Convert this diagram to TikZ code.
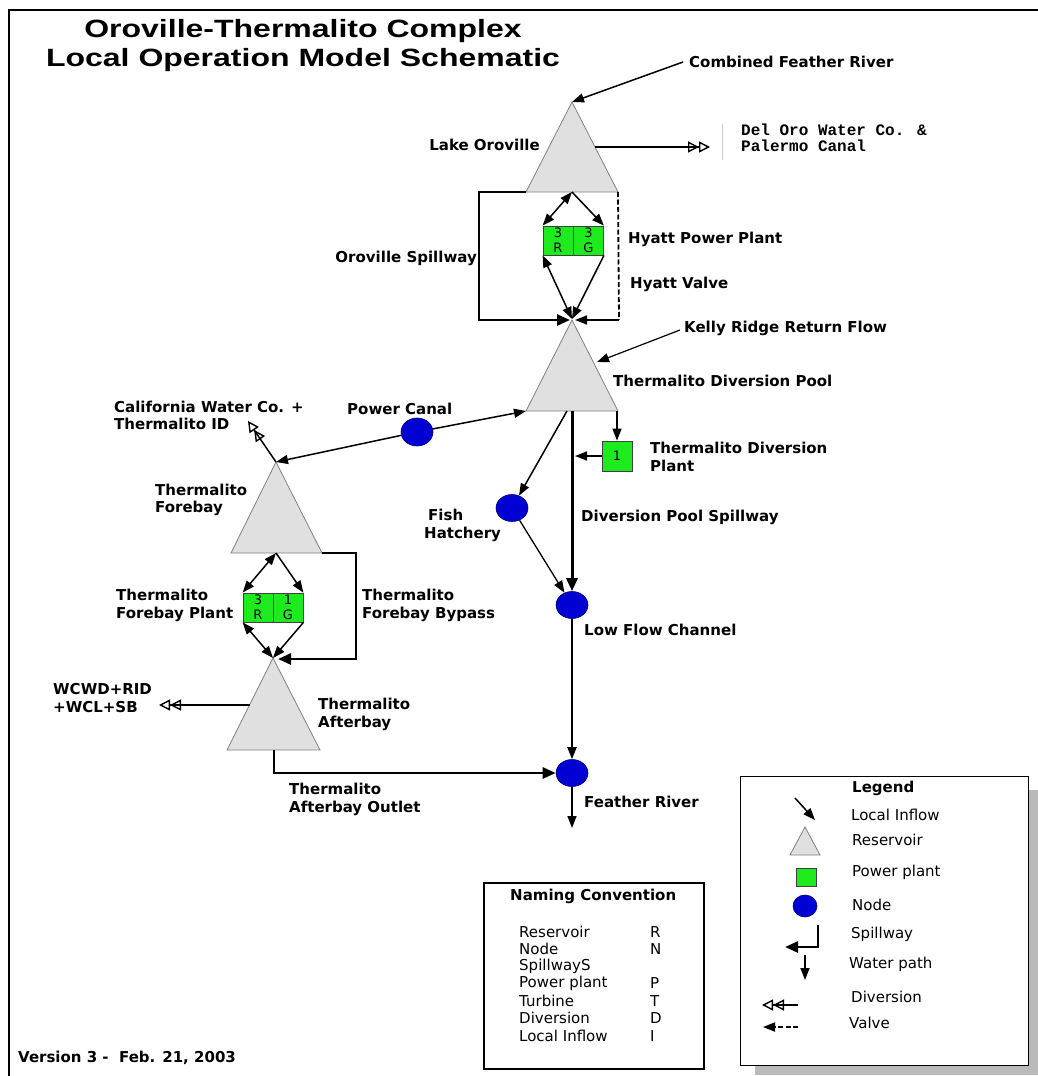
\documentclass[tikz,border=0pt]{standalone}
\usepackage{fontspec}
\setmainfont{DejaVu Sans}
\newfontfamily\titlefont{Liberation Sans}[FakeStretch=1.28]
\newfontfamily\delfont{Liberation Mono}
\usetikzlibrary{arrows.meta,shapes.geometric}
\definecolor{resgray}{RGB}{224,224,224}
\definecolor{plantgreen}{RGB}{30,235,30}
\definecolor{nodeblue}{RGB}{0,0,210}
\tikzset{
  tip/.tip={Triangle[length=12pt,width=9pt]},
  bigtip/.tip={Triangle[length=13pt,width=11pt]},
  otip/.tip={Triangle[open,length=11pt,width=11pt,line width=1.4pt]},
  arr/.style={line width=1.5pt,-tip},
  darr/.style={line width=1.5pt,tip-tip},
  thk/.style={line width=2.6pt,-bigtip},
  divr/.style={line width=1.5pt,-{otip[]otip[]}},
  valve/.style={line width=1.8pt,dash pattern=on 5pt off 2.5pt},
  resv/.style={fill=resgray,draw=black!50,line width=0.8pt},
  plant/.style={draw=black!75,line width=0.8pt,fill=plantgreen,minimum width=30pt,minimum height=29pt,inner sep=0pt,font=\fontsize{13}{15}\selectfont,align=center},
  bnode/.style={ellipse,fill=nodeblue,draw=nodeblue!60!black,line width=0.6pt,minimum width=32pt,minimum height=27pt,inner sep=0pt},
  lbl/.style={font=\fontsize{15}{17.5}\selectfont\bfseries,inner sep=0pt,align=left,anchor=west},
  ltxt/.style={font=\fontsize{15}{17}\selectfont,inner sep=0pt,anchor=west}
}
\begin{document}
\begin{tikzpicture}[x=1pt,y=-1pt]
\useasboundingbox (0,0) rectangle (1038,1076);
% frame
\draw[line width=2pt] (1038,10) -- (9,10) -- (9,1076);
% title
\node[font=\titlefont\bfseries\fontsize{25}{29}\selectfont,align=center,inner sep=0pt] (title) at (303,46) {Oroville-Thermalito Complex\\Local Operation Model Schematic};

% ---------- Lake Oroville
\coordinate (LOt) at (572,102);
\coordinate (LOl) at (526,192);
\coordinate (LOr) at (618,192);
\coordinate (LOb) at (572,192);
\draw[resv] (LOt) -- (LOl) -- (LOr) -- cycle;
\coordinate (cfs) at (683,62);
\draw[arr] (cfs) -- (LOt);
\coordinate (LOd) at (595,147);
\coordinate (dod) at (710,147);
\draw[divr] (LOd) -- (dod);
\coordinate (fl1) at (722,124);
\coordinate (fl2) at (722,160);
\draw[black!20,line width=0.8pt] (fl1) -- (fl2);

% Hyatt
\node[plant] (HR) at (558,240.5) {3\\R};
\node[plant] (HG) at (588.5,240.5) {3\\G};
\coordinate (hyc) at (572,319);
\coordinate (hycl) at (570,320);
\coordinate (hycr) at (575,320);
\coordinate (sp1) at (479,192);
\coordinate (sp2) at (479,320);
\coordinate (va1) at (619,320);
\draw[thk] (LOl) -- (sp1) -- (sp2) -- (hycl);
\draw[valve] (LOr) -- (va1);
\draw[arr] (va1) -- (hycr);
\draw[darr] (LOb) -- (HR.north west);
\draw[arr] (LOb) -- (HG.north east);
\draw[darr] (HR.south west) -- (hyc);
\draw[arr] (HG.south east) -- (hyc);

% ---------- Thermalito Diversion Pool
\coordinate (TDPt) at (572,320);
\coordinate (TDPl) at (526,411);
\coordinate (TDPr) at (618,411);
\coordinate (TDPb) at (572,411);
\coordinate (TDPf) at (567,411);
\draw[resv] (TDPt) -- (TDPl) -- (TDPr) -- cycle;
\coordinate (krs) at (680,330);
\coordinate (krt) at (597,362);
\draw[line width=1.2pt,-tip] (krs) -- (krt);

\node[plant,minimum height=30pt] (DP) at (617,456) {1};
\draw[arr] (DP.north |- TDPb) -- (DP.north);
\coordinate (dpt) at (575,456);
\draw[arr] (DP.west) -- (dpt);

\node[bnode] (FH) at (512,508) {};
\node[bnode] (LFC) at (572,605) {};
\node[bnode] (FRn) at (572,773) {};
\node[bnode,minimum height=28pt] (PC) at (417,432) {};

\draw[line width=3pt,-bigtip] (TDPb) -- (LFC.north);
\draw[arr] (TDPf) -- (FH);
\draw[line width=1.3pt,-tip] (FH) -- (LFC);
\draw[arr] (PC) -- (TDPl);

% ---------- Thermalito Forebay
\coordinate (TFt) at (276,462);
\coordinate (TFl) at (231,553);
\coordinate (TFr) at (322,553);
\coordinate (TFb) at (276,553);
\draw[resv] (TFt) -- (TFl) -- (TFr) -- cycle;
\draw[arr] (PC) -- (TFt);
\coordinate (cwc) at (248,421);
\draw[divr] (TFt) -- (cwc);

\node[plant] (FRp) at (258,607.5) {3\\R};
\node[plant] (FGp) at (288,607.5) {1\\G};

% ---------- Thermalito Afterbay
\coordinate (TAt) at (273,658);
\coordinate (TAl) at (227,750);
\coordinate (TAr) at (320,750);
\coordinate (TAb) at (274,750);
\draw[resv] (TAt) -- (TAl) -- (TAr) -- cycle;
\coordinate (TAc) at (278,659);
\coordinate (by1) at (356,553);
\coordinate (by2) at (356,659);
\draw[thk] (TFr) -- (by1) -- (by2) -- (TAc);
\draw[darr] (TFb) -- (FRp.north west);
\draw[arr] (TFb) -- (FGp.north east);
\draw[darr] (FRp.south west) -- (TAt);
\draw[arr] (FGp.south east) -- (TAt);
\coordinate (TAd) at (250,705);
\coordinate (wcd) at (159,705);
\draw[divr] (TAd) -- (wcd);
\draw[thk] (TAb) |- (FRn);
\draw[line width=2pt,-tip] (LFC) -- (FRn);
\coordinate (frs) at (572,828);
\draw[line width=1.6pt,-tip] (FRn) -- (frs);

% ---------- labels
\node[lbl] (l1) at (689,62) {Combined Feather River};
\node[lbl,anchor=east] (l2) at (540,145) {Lake Oroville};
\node[font=\delfont\bfseries\fontsize{16}{16}\selectfont,inner sep=0pt,align=left,anchor=west] (l3) at (741,138) {Del Oro Water Co. \&\\Palermo Canal};
\node[lbl,anchor=east] (l4) at (477,258) {Oroville Spillway};
\node[lbl] (l5) at (628,239) {Hyatt Power Plant};
\node[lbl] (l6) at (630,284) {Hyatt Valve};
\node[lbl] (l7) at (684,328) {Kelly Ridge Return Flow};
\node[lbl] (l8) at (613,381) {Thermalito Diversion Pool};
\node[lbl] (l9) at (347,409) {Power Canal};
\node[lbl] (l10) at (114,415.5) {California Water Co. +\\Thermalito ID};
\node[lbl] (l11) at (650,457) {Thermalito Diversion\\Plant};
\node[lbl] (l12) at (424,525.5) {\hspace*{4pt}Fish\\Hatchery};
\node[lbl] (l13) at (581,517) {Diversion Pool Spillway};
\node[lbl] (l14) at (155,500) {Thermalito\\Forebay};
\node[lbl] (l15) at (584,630) {Low Flow Channel};
\node[lbl] (l16) at (116,605.5) {Thermalito\\Forebay Plant};
\node[lbl] (l17) at (362,605.5) {Thermalito\\Forebay Bypass};
\node[lbl] (l18) at (53,698) {WCWD+RID\\+WCL+SB};
\node[lbl] (l19) at (318,714.5) {Thermalito\\Afterbay};
\node[lbl] (l20) at (289,799.5) {Thermalito\\Afterbay Outlet};
\node[lbl] (l21) at (584,802) {Feather River};
\node[lbl] (ver) at (18,1058) {Version 3 -\ \ Feb. 21, 2003};

% ---------- legend
\fill[black!27] (755,790) rectangle (1038,1075);
\node[draw,fill=white,line width=1pt,minimum width=288pt,minimum height=289pt,inner sep=0pt,anchor=north west] (legend) at (740,776) {};
\node[lbl] (lgT) at (852,788) {Legend};
\coordinate (li1) at (795,798);
\coordinate (li2) at (815,820);
\draw[arr] (li1) -- (li2);
\node[ltxt] (lgt1) at (851,815) {Local Inflow};
\coordinate (lr1) at (805,827);
\coordinate (lr2) at (790,855);
\coordinate (lr3) at (820,855);
\draw[resv] (lr1) -- (lr2) -- (lr3) -- cycle;
\node[ltxt] (lgt2) at (852,840) {Reservoir};
\node[plant,minimum width=20pt,minimum height=18pt] (lgP) at (806,877) {};
\node[ltxt] (lgt3) at (852,872) {Power plant};
\node[bnode,minimum width=24pt,minimum height=22pt] (lgN) at (805,906) {};
\node[ltxt] (lgt4) at (852,905) {Node};
\coordinate (ls1) at (818,925);
\coordinate (ls2) at (818,947);
\coordinate (ls3) at (785,947);
\draw[thk] (ls1) -- (ls2) -- (ls3);
\node[ltxt] (lgt5) at (851,934) {Spillway};
\coordinate (lw1) at (805,955);
\coordinate (lw2) at (805,980);
\draw[arr] (lw1) -- (lw2);
\node[ltxt] (lgt6) at (849,964) {Water path};
\coordinate (ld1) at (798,1005);
\coordinate (ld2) at (762,1005);
\draw[divr] (ld1) -- (ld2);
\node[ltxt] (lgt7) at (851,997) {Diversion};
\coordinate (lv1) at (798,1027);
\coordinate (lv2) at (763,1027);
\draw[valve,-tip] (lv1) -- (lv2);
\node[ltxt] (lgt8) at (849,1023) {Valve};

% ---------- naming convention
\node[draw,line width=1.5pt,minimum width=220pt,minimum height=186pt,inner sep=0pt,anchor=north west] (ncbox) at (483,882) {};
\node[lbl] (ncT) at (510,896) {Naming Convention};
\foreach \yy/\aa/\bb [count=\i] in {932/Reservoir/R,949/Node/N,966/SpillwayS/{},983/Power plant/P,1001/Turbine/T,1018/Diversion/D,1036/Local Inflow/I}{
  \node[ltxt] (nca\i) at (519,\yy) {\aa};
  \node[ltxt] (ncb\i) at (650,\yy) {\bb};
}
\end{tikzpicture}
\end{document}
